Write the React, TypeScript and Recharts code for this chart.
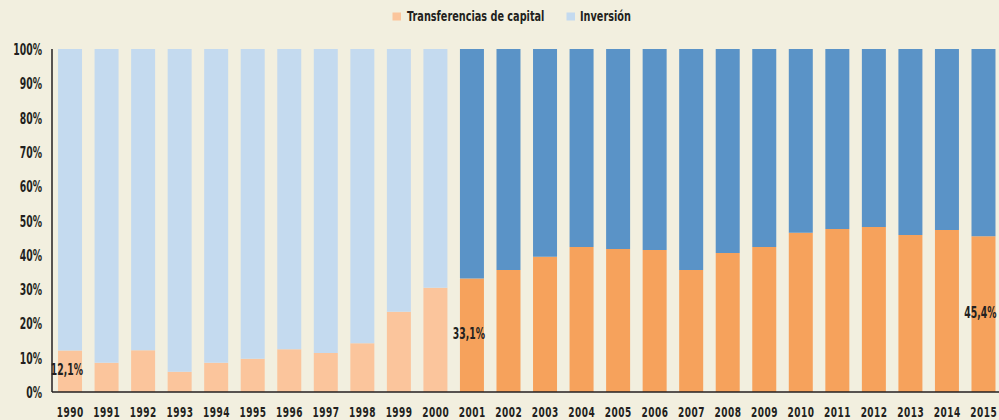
import React from "react";
import { BarChart, Bar, XAxis, YAxis, Legend, Cell, LabelList } from "recharts";

const years = [
  "1990","1991","1992","1993","1994","1995","1996","1997","1998","1999","2000",
  "2001","2002","2003","2004","2005","2006","2007","2008","2009","2010","2011","2012","2013","2014","2015",
];
const transferencias = [
  12.1, 8.5, 12.2, 5.9, 8.5, 9.7, 12.5, 11.4, 14.2, 23.4, 30.4,
  33.1, 35.6, 39.4, 42.3, 41.7, 41.4, 35.6, 40.5, 42.3, 46.4, 47.5, 48.1, 45.8, 47.2, 45.4,
];
const yTicks = [0, 10, 20, 30, 40, 50, 60, 70, 80, 90, 100];
const labelYears = ["1990", "2001", "2015"];
const labelTexts = ["12,1%", "33,1%", "45,4%"];
const firstDarkYear = 2001;

const data = years.map((y, i) => ({
  year: y,
  transferencias: transferencias[i],
  inversion: +(100 - transferencias[i]).toFixed(1),
}));

const FONT = "'DejaVu Sans', sans-serif";
const TEXT = "#231f20";
const BG = "#f2efdf";
const LIGHT_ORANGE = "#fbc59c";
const DARK_ORANGE = "#f6a25c";
const LIGHT_BLUE = "#c4daef";
const DARK_BLUE = "#5a93c7";
const SX = 0.62;
const SX_LEGEND = 0.67;

const XTick = (props: any) => {
  const { x, y, payload } = props;
  return (
    <g transform={`translate(${x},${y + 12.5})`}>
      <text transform={`scale(${SX},1)`} textAnchor="middle" fontFamily={FONT} fontWeight="bold" fontSize={14.5} letterSpacing={0.8} fill={TEXT}>
        {payload.value}
      </text>
    </g>
  );
};

const YTick = (props: any) => {
  const { x, y, payload } = props;
  return (
    <g transform={`translate(${x},${y + 6})`}>
      <text transform={`scale(${SX},1)`} textAnchor="end" fontFamily={FONT} fontWeight="bold" fontSize={15} fill={TEXT}>
        {`${payload.value}%`}
      </text>
    </g>
  );
};

const renderLabel = (props: any) => {
  const { x, y, width, height, index } = props;
  const li = labelYears.indexOf(years[index]);
  if (li < 0) return null;
  return (
    <g transform={`translate(${x + width + 1},${y + height / 2 + 4})`}>
      <text transform={`scale(${SX},1)`} textAnchor="end" fontFamily={FONT} fontWeight="bold" fontSize={15} fill={TEXT}>
        {labelTexts[li]}
      </text>
    </g>
  );
};

const renderLegend = () => (
  <svg width={999} height={30} style={{ display: "block" }}>
    <rect x={392.5} y={12.5} width={8.5} height={8} fill={LIGHT_ORANGE} />
    <g transform="translate(407,21)">
      <text transform={`scale(${SX_LEGEND},1)`} fontFamily={FONT} fontWeight="bold" fontSize={14.5} fill={TEXT}>
        Transferencias de capital
      </text>
    </g>
    <rect x={566.5} y={12.5} width={8.5} height={8} fill={LIGHT_BLUE} />
    <g transform="translate(580,21)">
      <text transform={`scale(${SX_LEGEND},1)`} fontFamily={FONT} fontWeight="bold" fontSize={14.5} fill={TEXT}>
        Inversión
      </text>
    </g>
  </svg>
);

export default function App() {
  return (
    <div style={{ position: "absolute", left: 0, top: 0, width: 999, height: 420, background: BG, overflow: "hidden" }}>
      <BarChart
        width={1010}
        height={420}
        data={data}
        margin={{ top: 19, right: 8, bottom: 0, left: 0 }}
        barCategoryGap="16.5%"
      >
        <Legend verticalAlign="top" align="left" content={renderLegend} wrapperStyle={{ top: 0, left: 0, width: 999, height: 30 }} />
        <XAxis
          dataKey="year"
          axisLine={{ stroke: TEXT, strokeWidth: 1.5 }}
          tickLine={false}
          tickSize={0}
          tickMargin={12}
          height={28}
          interval={0}
          tick={<XTick />}
        />
        <YAxis
          domain={[0, 100]}
          ticks={yTicks}
          axisLine={{ stroke: TEXT, strokeWidth: 1.5 }}
          tickLine={false}
          tickSize={0}
          tickMargin={10}
          width={52}
          interval={0}
          tick={<YTick />}
        />
        <Bar dataKey="transferencias" name="Transferencias de capital" stackId="a" isAnimationActive={false}>
          {data.map((d) => (
            <Cell key={d.year} fill={+d.year >= firstDarkYear ? DARK_ORANGE : LIGHT_ORANGE} />
          ))}
          <LabelList dataKey="transferencias" content={renderLabel} />
        </Bar>
        <Bar dataKey="inversion" name="Inversión" stackId="a" isAnimationActive={false}>
          {data.map((d) => (
            <Cell key={d.year} fill={+d.year >= firstDarkYear ? DARK_BLUE : LIGHT_BLUE} />
          ))}
        </Bar>
      </BarChart>
    </div>
  );
}
